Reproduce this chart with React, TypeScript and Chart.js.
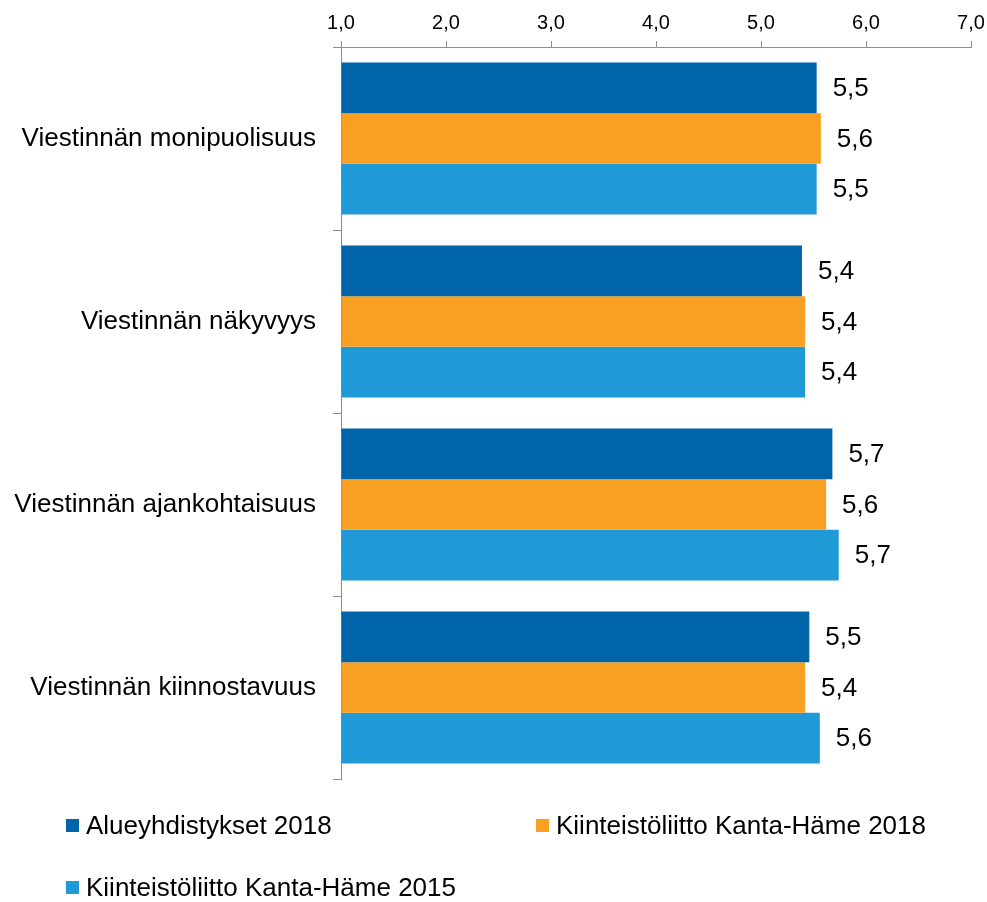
import React, { useEffect, useRef } from "react";
import { Chart, registerables } from "chart.js";

Chart.register(...registerables);

const categories = [
  "Viestinnän monipuolisuus",
  "Viestinnän näkyvyys",
  "Viestinnän ajankohtaisuus",
  "Viestinnän kiinnostavuus",
];
const seriesNames = [
  "Alueyhdistykset 2018",
  "Kiinteistöliitto Kanta-Häme 2018",
  "Kiinteistöliitto Kanta-Häme 2015",
];
const alueyhdistykset2018 = [5.53, 5.39, 5.68, 5.46];
const kantaHame2018 = [5.57, 5.42, 5.62, 5.42];
const kantaHame2015 = [5.53, 5.42, 5.74, 5.56];
const seriesColors = ["#0064A8", "#F7A021", "#1F9AD6"];
const xTicks = [1, 2, 3, 4, 5, 6, 7];

const FONT = '"Liberation Sans", Arial, sans-serif';
const AXIS = "#8C8C8C";

const fmt = (v: number) => v.toFixed(1).replace(".", ",");

const valueLabels = {
  id: "valueLabels",
  afterDatasetsDraw(chart: any) {
    const ctx = chart.ctx;
    ctx.save();
    ctx.font = `26px ${FONT}`;
    ctx.fillStyle = "#000";
    ctx.textAlign = "left";
    ctx.textBaseline = "middle";
    chart.data.datasets.forEach((ds: any, di: number) => {
      const meta = chart.getDatasetMeta(di);
      meta.data.forEach((el: any, i: number) => {
        ctx.fillText(fmt(ds.data[i]), el.x + 16, el.y + 1);
      });
    });
    ctx.restore();
  },
};

export default function App() {
  const ref = useRef<HTMLCanvasElement | null>(null);

  useEffect(() => {
    if (!ref.current) return;
    const data = [alueyhdistykset2018, kantaHame2018, kantaHame2015];
    const chart = new Chart(ref.current, {
      type: "bar",
      data: {
        labels: categories,
        datasets: seriesNames.map((name, i) => ({
          label: name,
          data: data[i],
          backgroundColor: seriesColors[i],
          borderWidth: 0,
          base: 1,
          categoryPercentage: 0.83,
          barPercentage: 1.0,
        })),
      },
      options: {
        indexAxis: "y",
        responsive: false,
        animation: false,
        devicePixelRatio: 1,
        layout: { padding: { left: 0, right: 16, top: 0, bottom: 123 } },
        plugins: {
          legend: { display: false },
          tooltip: { enabled: false },
        },
        scales: {
          x: {
            position: "top",
            min: 1,
            max: 7,
            afterBuildTicks: (scale: any) => {
              scale.ticks = xTicks.map((v) => ({ value: v }));
            },
            afterFit: (scale: any) => {
              scale.height = 47;
              scale.paddingLeft = 0;
              scale.paddingRight = 0;
            },
            ticks: {
              callback: (v: any) => fmt(Number(v)),
              font: { family: FONT, size: 20 },
              color: "#000",
              padding: 6,
              maxRotation: 0,
            },
            grid: {
              drawOnChartArea: false,
              drawTicks: true,
              tickLength: 6,
              color: AXIS,
              lineWidth: 1,
            },
            border: { display: true, color: AXIS, width: 1 },
          },
          y: {
            afterFit: (scale: any) => {
              scale.width = 341;
            },
            ticks: {
              font: { family: FONT, size: 26 },
              color: "#000",
              padding: 17,
            },
            grid: {
              offset: true,
              drawOnChartArea: false,
              drawTicks: true,
              tickLength: 8,
              color: AXIS,
              lineWidth: 1,
            },
            border: { display: true, color: AXIS, width: 1 },
          },
        },
      },
      plugins: [valueLabels],
    } as any);
    return () => chart.destroy();
  }, []);

  const legendPos = [
    { left: 66, top: 812 },
    { left: 536, top: 812 },
    { left: 66, top: 874 },
  ];

  return (
    <div
      style={{
        position: "absolute",
        left: 0,
        top: 0,
        width: 987,
        height: 902,
        background: "#fff",
        overflow: "hidden",
      }}
    >
      <canvas ref={ref} width={987} height={902} style={{ display: "block", width: 987, height: 902 }} />
      {seriesNames.map((name, i) => (
        <div
          key={name}
          style={{
            position: "absolute",
            left: legendPos[i].left,
            top: legendPos[i].top,
            height: 26,
            display: "flex",
            alignItems: "center",
            fontFamily: FONT,
            fontSize: 26,
            lineHeight: "26px",
            color: "#000",
            whiteSpace: "nowrap",
          }}
        >
          <span
            style={{
              display: "inline-block",
              width: 13,
              height: 13,
              background: seriesColors[i],
              marginRight: 7,
            }}
          />
          <span>{name}</span>
        </div>
      ))}
    </div>
  );
}
